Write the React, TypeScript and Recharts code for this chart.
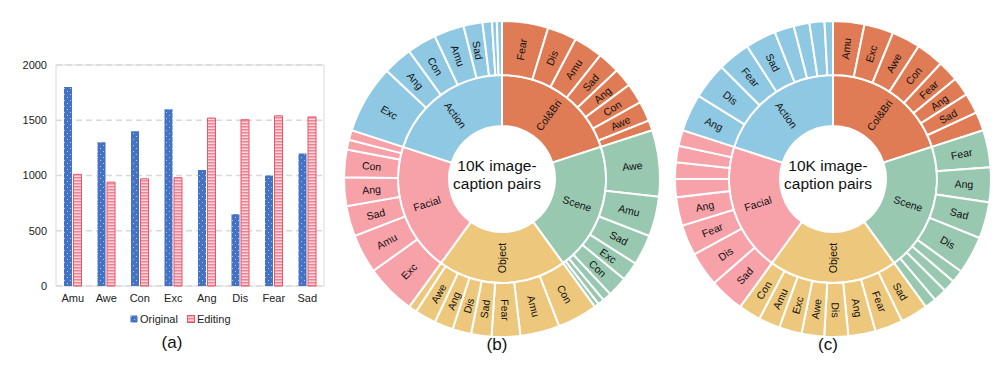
import { BarChart, Bar, XAxis, YAxis, CartesianGrid, ReferenceArea, PieChart, Pie, Cell, Label } from 'recharts';

const FONT = '"Liberation Sans", Arial, Helvetica, sans-serif';

// (a) bar chart
const emotions = ['Amu', 'Awe', 'Con', 'Exc', 'Ang', 'Dis', 'Fear', 'Sad'];
const original = [1800, 1300, 1400, 1600, 1050, 650, 1000, 1200];
const editing = [1010, 940, 970, 980, 1520, 1505, 1540, 1530];
const yTicks = [0, 500, 1000, 1500, 2000];

// (b) / (c) sunbursts
const categories = ['Col&Bri', 'Scene', 'Object', 'Facial', 'Action'];
const categoryPairs = [2000, 2000, 2000, 2000, 2000];
const categoryColors = ['#E07C55', '#98C8B0', '#EDC87C', '#F7A1A9', '#8FC8E2'];

// [emotion, pairs, labelled]
type Slice = [string, number, boolean];

const origColBri: Slice[] = [['Fear', 472, true], ['Dis', 300, true], ['Amu', 297, true], ['Sad', 225, true], ['Ang', 192, true], ['Con', 208, true], ['Awe', 203, true], ['Exc', 103, false]];
const origScene: Slice[] = [['Awe', 680, true], ['Amu', 408, true], ['Sad', 311, true], ['Exc', 194, true], ['Con', 206, true], ['Fear', 90, false], ['Ang', 65, false], ['Dis', 46, false]];
const origObject: Slice[] = [['Con', 411, true], ['Amu', 403, true], ['Fear', 292, true], ['Sad', 208, true], ['Dis', 192, true], ['Ang', 192, true], ['Awe', 217, true], ['Exc', 85, false]];
const origFacial: Slice[] = [['Exc', 514, true], ['Amu', 400, true], ['Sad', 311, true], ['Ang', 292, true], ['Con', 283, true], ['Fear', 100, false], ['Awe', 100, false]];
const origAction: Slice[] = [['Exc', 700, true], ['Ang', 300, true], ['Con', 300, true], ['Amu', 308, true], ['Sad', 194, true], ['Fear', 96, false], ['Dis', 50, false], ['Awe', 52, false]];

const editColBri: Slice[] = [['Amu', 320, true], ['Exc', 300, true], ['Awe', 292, true], ['Con', 283, true], ['Fear', 214, true], ['Ang', 192, true], ['Sad', 208, true], ['Dis', 191, false]];
const editScene: Slice[] = [['Fear', 381, true], ['Ang', 356, true], ['Sad', 372, true], ['Dis', 386, true], ['Amu', 128, false], ['Exc', 125, false], ['Awe', 136, false], ['Con', 116, false]];
const editObject: Slice[] = [['Sad', 281, true], ['Fear', 286, true], ['Ang', 278, true], ['Dis', 244, true], ['Awe', 231, true], ['Exc', 233, true], ['Amu', 219, true], ['Con', 228, true]];
const editFacial: Slice[] = [['Sad', 356, true], ['Dis', 353, true], ['Fear', 314, true], ['Ang', 292, true], ['Amu', 186, false], ['Awe', 169, false], ['Con', 167, false], ['Exc', 163, false]];
const editAction: Slice[] = [['Ang', 381, true], ['Dis', 372, true], ['Fear', 333, true], ['Sad', 314, true], ['Amu', 200, false], ['Exc', 161, false], ['Awe', 153, false], ['Con', 86, false]];

const barData = emotions.map((e, i) => ({ emotion: e, Original: original[i], Editing: editing[i] }));
const innerData = categories.map((c, i) => ({ name: c, value: categoryPairs[i], cat: i }));

const buildOuter = (groups: Slice[][]) =>
  groups.flatMap((g, ci) => g.map(([name, value, shown]) => ({ name, value, shown, cat: ci })));

const outerOrig = buildOuter([origColBri, origScene, origObject, origFacial, origAction]);
const outerEdit = buildOuter([editColBri, editScene, editObject, editFacial, editAction]);

const RAD = Math.PI / 180;

function radialLabel(list: { name: string; shown: boolean }[], r: number) {
  return (p: any) => {
    const item = list[p.index];
    if (!item || !item.shown) return null;
    const a = -p.midAngle * RAD;
    const x = p.cx + r * Math.cos(a);
    const y = p.cy + r * Math.sin(a);
    const cw = (((90 - p.midAngle) % 360) + 360) % 360;
    const rot = cw < 180 ? cw - 90 : cw - 270;
    return (
      <text
        key={`l-${p.index}`}
        x={x}
        y={y}
        textAnchor="middle"
        dominantBaseline="central"
        transform={`rotate(${rot} ${x} ${y})`}
        fontSize={10.5}
        fill="#111"
        fontFamily={FONT}
      >
        {item.name}
      </text>
    );
  };
}

const CX = 165;
const CY = 174;

function Sunburst({ outer }: { outer: { name: string; value: number; shown: boolean; cat: number }[] }) {
  const inner = innerData.map((d) => ({ ...d, shown: true }));
  return (
    <PieChart width={330} height={340}>
      <Pie
        data={innerData}
        dataKey="value"
        nameKey="name"
        cx={CX}
        cy={CY}
        innerRadius={53}
        outerRadius={104}
        startAngle={90}
        endAngle={-270}
        stroke="#fff"
        strokeWidth={2}
        isAnimationActive={false}
        labelLine={false}
        label={radialLabel(inner, 79)}
      >
        {innerData.map((d, i) => (
          <Cell key={i} fill={categoryColors[d.cat]} />
        ))}
        <Label
          position="center"
          content={() => (
            <text x={CX} y={CY} textAnchor="middle" fontSize={15.5} fill="#111" fontFamily={FONT}>
              <tspan x={CX} y={CY - 3.5}>10K image-</tspan>
              <tspan x={CX} y={CY + 15}>caption pairs</tspan>
            </text>
          )}
        />
      </Pie>
      <Pie
        data={outer}
        dataKey="value"
        nameKey="name"
        cx={CX}
        cy={CY}
        innerRadius={104}
        outerRadius={158}
        startAngle={90}
        endAngle={-270}
        stroke="#fff"
        strokeWidth={2}
        isAnimationActive={false}
        labelLine={false}
        label={radialLabel(outer, 131)}
      >
        {outer.map((d, i) => (
          <Cell key={i} fill={categoryColors[d.cat]} />
        ))}
      </Pie>
    </PieChart>
  );
}

function PatternDefs({ prefix }: { prefix: string }) {
  return (
    <defs>
      <pattern id={`${prefix}dots`} width={6} height={6} patternUnits="userSpaceOnUse">
        <rect width={6} height={6} fill="#4472C4" />
        <circle cx={1.5} cy={1.5} r={0.55} fill="#C9D6F0" />
        <circle cx={4.5} cy={4.5} r={0.55} fill="#C9D6F0" />
      </pattern>
      <pattern id={`${prefix}stripes`} width={4} height={3} patternUnits="userSpaceOnUse">
        <rect width={4} height={3} fill="#FBD5DA" />
        <rect width={4} height={1.5} fill="#EE8494" />
      </pattern>
    </defs>
  );
}

const caption = { position: 'absolute' as const, fontSize: 17, fontFamily: FONT, color: '#111', width: 60, textAlign: 'center' as const };

export default function App() {
  return (
    <div style={{ position: 'absolute', left: 0, top: 0, width: 996, height: 368, background: '#fff', fontFamily: FONT }}>
      <div style={{ position: 'absolute', left: 0, top: 0 }}>
        <BarChart width={330} height={310} data={barData} margin={{ top: 65, right: 6, bottom: 0, left: 0 }} barSize={8} barGap={1.5}>
          <PatternDefs prefix="bar-" />
          <CartesianGrid vertical={false} stroke="#D9D9D9" strokeDasharray="6 4" strokeWidth={1.6} />
          <XAxis dataKey="emotion" height={24} tickLine={false} axisLine={false} tick={{ fontSize: 11, fill: '#222', fontFamily: FONT }} interval={0} />
          <YAxis width={56} domain={[0, 2000]} ticks={yTicks} tickLine={false} tickMargin={3} axisLine={false} tick={{ fontSize: 11, fill: '#222', fontFamily: FONT }} />
          <Bar dataKey="Original" fill="url(#bar-dots)" isAnimationActive={false} />
          <Bar dataKey="Editing" fill="url(#bar-stripes)" stroke="#E8566B" strokeWidth={1} isAnimationActive={false} />
          <ReferenceArea y1={0} y2={2000} fill="none" fillOpacity={0} stroke="#D9D9D9" strokeWidth={1} />
        </BarChart>
      </div>
      <div style={{ position: 'absolute', left: 130, top: 313, display: 'flex', alignItems: 'center', fontSize: 11, color: '#222' }}>
        <svg width={8} height={8} style={{ marginRight: 2 }}>
          <PatternDefs prefix="lg-" />
          <rect x={0.5} y={0.5} width={7} height={7} fill="url(#lg-dots)" />
        </svg>
        <span style={{ marginRight: 9 }}>Original</span>
        <svg width={8} height={8} style={{ marginRight: 2 }}>
          <rect x={0.5} y={0.5} width={7} height={7} fill="url(#lg-stripes)" stroke="#E8566B" strokeWidth={1} />
        </svg>
        <span>Editing</span>
      </div>
      <div style={{ ...caption, left: 142, top: 333 }}>(a)</div>

      <div style={{ position: 'absolute', left: 332, top: 0 }}>
        <Sunburst outer={outerOrig} />
      </div>
      <div style={{ ...caption, left: 467, top: 335 }}>(b)</div>

      <div style={{ position: 'absolute', left: 663, top: 0 }}>
        <Sunburst outer={outerEdit} />
      </div>
      <div style={{ ...caption, left: 798, top: 335 }}>(c)</div>
    </div>
  );
}
